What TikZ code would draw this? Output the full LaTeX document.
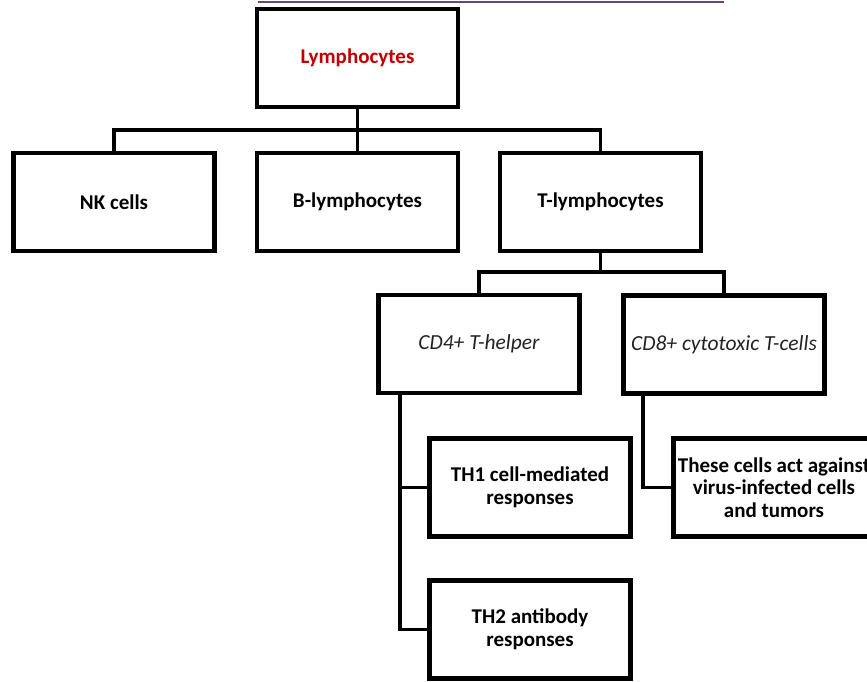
\documentclass[tikz,border=0pt]{standalone}
\usepackage{fontspec}
\setmainfont{Carlito}
\definecolor{toppurple}{RGB}{96,74,123}
\definecolor{titlered}{RGB}{192,0,0}
\definecolor{italgray}{RGB}{35,35,35}
\begin{document}
\begin{tikzpicture}[x=1pt,y=-1pt,
  box/.style={draw=black,line width=4.2pt,fill=white,rectangle,minimum width=201pt,minimum height=98pt,inner sep=0pt,align=center,font=\fontsize{21}{22.5}\selectfont\bfseries},
  itbox/.style={box,font=\fontsize{21.5}{22.5}\selectfont\itshape,text=italgray},
  link/.style={line width=3.5pt,line cap=rect}]
\useasboundingbox (0,0) rectangle (867,681);
\clip (0,0) rectangle (867,681);
\fill[white] (0,0) rectangle (867,681);
\coordinate (topL) at (258,2);
\coordinate (topR) at (724,2);
\draw[toppurple,line width=2.5pt] (topL) -- (topR);

\coordinate (h1) at (0,130);
\coordinate (h2) at (0,272);
\coordinate (v1) at (400,0);
\coordinate (v2) at (643,0);

\node[box,text=titlered] (L) at (357.5,58) {Lymphocytes};
\node[box] (NK) at (114,202) {NK cells};
\node[box] (B) at (357.5,202) {B-lymphocytes};
\node[box] (T) at (600.5,202) {T-lymphocytes};
\node[itbox] (CD4) at (479,344) {CD4+ T-helper};
\node[itbox] (CD8) at (724,344.5) {CD8+ cytotoxic T-cells};
\node[box] (TH1) at (530,487.5) {TH1 cell-mediated\\responses};
\node[box] (TH2) at (530,629.5) {TH2 antibody\\responses};
\node[box] (TC) at (774,487.5) {These cells act against\\virus-infected cells\\and tumors};

\draw[link] (L.south) -- (L.south |- h1);
\draw[link] (NK.north) |- (T.north |- h1) -- (T.north);
\draw[link] (B.north) -- (B.north |- h1);
\draw[link] (T.south) -- (T.south |- h2);
\draw[link] (CD4.north) |- (CD8.north |- h2) -- (CD8.north);
\draw[link] (CD4.south -| v1) |- (TH2.west);
\draw[link] (TH1.west -| v1) -- (TH1.west);
\draw[link] (CD8.south -| v2) |- (TC.west);
\end{tikzpicture}
\end{document}
